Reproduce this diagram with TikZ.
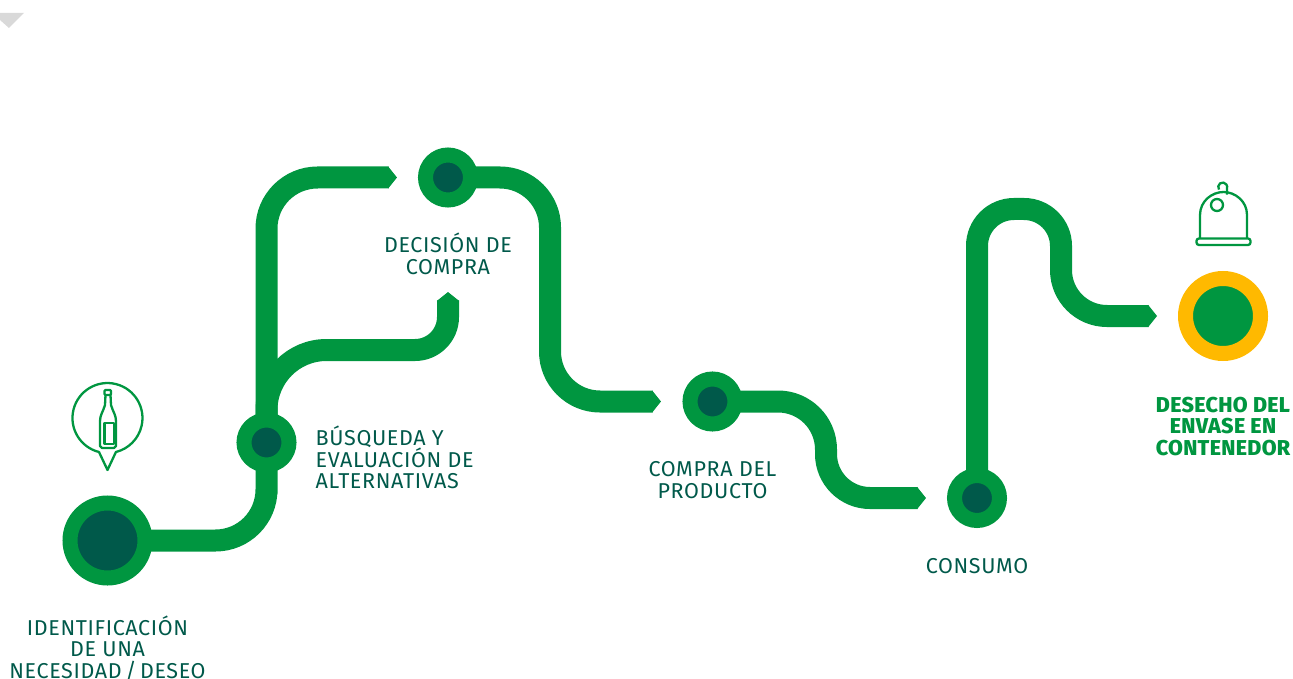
\documentclass[tikz,border=0pt]{standalone}
\usepackage{fontspec}
\setmainfont[LetterSpace=3]{Fira Sans}
\newfontfamily\boldlabel[LetterSpace=1.5]{Fira Sans ExtraBold}
\newcommand\rutafont{\fontsize{21.5}{21.5}\selectfont\lineskiplimit=-10pt\relax}
\usetikzlibrary{positioning,backgrounds,arrows.meta}
\definecolor{rutagreen}{HTML}{009640}
\definecolor{rutadark}{HTML}{00594A}
\definecolor{rutayellow}{HTML}{FFB900}

\begin{document}
\begin{tikzpicture}[x=1pt, y=-1pt,
	stop/.style={circle, draw=rutagreen, fill=rutadark, line width=15pt, minimum size=45pt, inner sep=0pt},
	bigstop/.style={stop, minimum size=75pt},
	laststop/.style={bigstop, draw=rutayellow, fill=rutagreen},
	track/.style={draw=rutagreen, line width=22pt, -{Triangle[length=9pt, width=22pt]}},
	label/.style={font=\rutafont, text=rutadark, align=center, inner sep=0pt},
	icon/.style={draw=rutagreen, line width=2.3pt, line join=round},
]
\useasboundingbox (0,0) rectangle (1293,679);
\fill[black!15] (0,13) -- (24,13) -- (9,28) -- (0,20) -- cycle;

\node[bigstop] (necesidad) at (107.5,540.5) {};
\node[stop] (busqueda) at (266.5,442.5) {};
\node[stop] (decision) at (448,177.5) {};
\node[stop] (compra) at (712.5,401.5) {};
\node[stop] (consumo) at (977,498) {};
\node[laststop] (desecho) at (1223,316) {};

\node[label, below=30pt of necesidad] (necesidadtxt) {IDENTIFICACIÓN\\DE UNA\\NECESIDAD\,/\,DESEO};
\node[label, below=25.5pt of decision] (decisiontxt) {DECISIÓN DE\\COMPRA};
\node[label, align=left, right=19pt of busqueda, yshift=-15pt] (busquedatxt) {BÚSQUEDA Y\\EVALUACIÓN DE\\ALTERNATIVAS};
\node[label, below=30pt of compra] (compratxt) {COMPRA DEL\\PRODUCTO};
\node[label, below=30pt of consumo] (consumotxt) {CONSUMO};
\node[label, text=rutagreen, font=\rutafont\boldlabel, below=35.5pt of desecho] (desechotxt) {DESECHO DEL\\ENVASE EN\\CONTENEDOR};

\coordinate (tipA) at (397,177.5);
\coordinate (tipB) at (448,292);
\coordinate (bendB) at (448,350);
\coordinate (turnC) at (550,290);
\coordinate (tipC) at (661,401.5);
\coordinate (turnD) at (826,450);
\coordinate (tipD) at (926,498);
\coordinate (topE) at (1061,209);
\coordinate (tipE) at (1157,316);

\begin{scope}[on background layer]
\draw[track, rounded corners=51] (necesidad.center) -| (busqueda.center) |- (tipA);
\draw[track, rounded corners=60] (busqueda.center) -- (busqueda |- bendB) [rounded corners=33] -- (bendB) -- (tipB);
\draw[track, rounded corners=50] (decision.center) -| (turnC) |- (tipC);
\draw[track, rounded corners=48] (compra.center) -- (compra -| turnD) [rounded corners=44] -- (turnD |- tipD) -- (tipD);
\draw[track, rounded corners=37] (consumo.center) |- (topE) [rounded corners=46] |- (tipE);
\end{scope}

% bottle in its balloon
\draw[icon] (99,452) arc[start angle=256, end angle=-76, radius=35pt] -- (107.5,470) -- cycle;
\draw[icon] (105.5,395) -- (105,405) .. controls (103,412) and (100,415) .. (100,421) -- (100,446) -- (102,448) -- (114,448) -- (116,446) -- (116,421) .. controls (116,415) and (113,412) .. (111,405) -- (110.5,395);
\draw[icon, rounded corners=1] (104.5,390) rectangle (111,395);
\draw[icon] (104.5,423) rectangle (114,444);

% container
\draw[icon] (1200,238) -- (1200,215) .. controls (1200,201) and (1212,192) .. (1223.5,192) .. controls (1235,192) and (1247,201) .. (1247,215) -- (1247,238);
\draw[icon, rounded corners=2.5] (1196.5,238.5) rectangle (1250.5,245);
\draw[icon] (1219,189.6) arc[start angle=215, end angle=-20, radius=4.5pt] -- ++(0,6);
\draw[icon] (1217,205) circle[radius=6pt];
\end{tikzpicture}
\end{document}
